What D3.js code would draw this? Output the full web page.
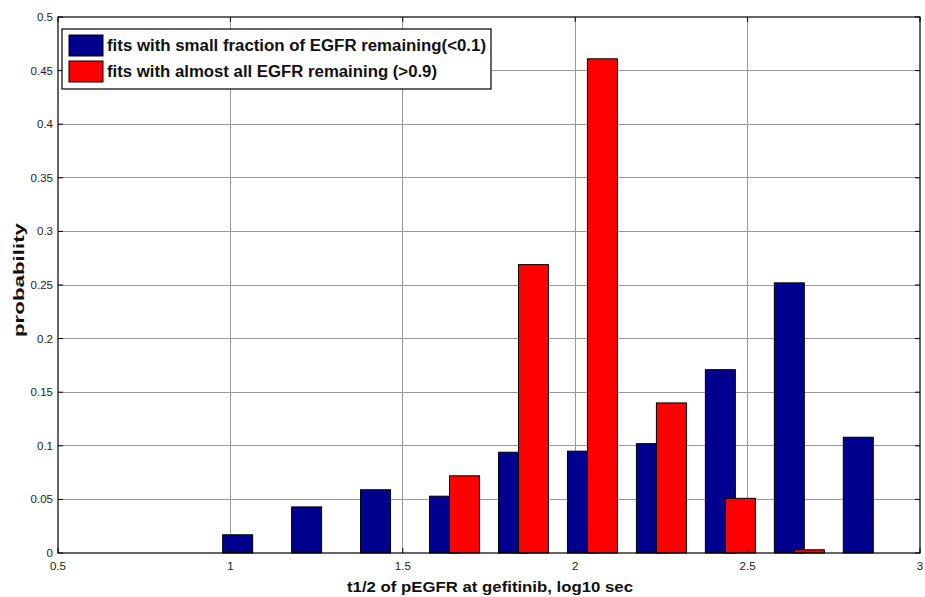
<!DOCTYPE html>
<html><head><meta charset="utf-8">
<script src="https://cdn.jsdelivr.net/npm/d3@7"></script>
<style>body{margin:0;background:#fff}svg{display:block}</style>
</head><body>
<svg id="c" width="925" height="597"></svg>
<script>
const binCenters = [1.05,1.25,1.45,1.65,1.85,2.05,2.25,2.45,2.65,2.85];
const smallFraction = [0.017,0.043,0.059,0.053,0.094,0.095,0.102,0.171,0.252,0.108];
const almostAll     = [0,0,0,0.072,0.269,0.461,0.140,0.051,0.003,0];
const seriesNames = ["fits with small fraction of EGFR remaining(<0.1)","fits with almost all EGFR remaining (>0.9)"];
const seriesColors = ["#00008F","#FF0000"];
const xTicks = [0.5,1,1.5,2,2.5,3];
const yTicks = [0,0.05,0.1,0.15,0.2,0.25,0.3,0.35,0.4,0.45,0.5];
const xLabel = "t1/2 of pEGFR at gefitinib, log10 sec";
const yLabel = "probability";

const svg = d3.select("#c");
const L=58,R=920,T=17,B=553;
const x = d3.scaleLinear().domain([0.5,3]).range([L,R]);
const y = d3.scaleLinear().domain([0,0.5]).range([B,T]);
const font="'Liberation Sans',Arial,Helvetica,sans-serif";

// grid
const g = svg.append("g");
g.selectAll(".gx").data(xTicks.slice(1,-1)).join("line")
 .attr("x1",d=>x(d)).attr("x2",d=>x(d)).attr("y1",T).attr("y2",B)
 .attr("stroke","#9a9a9a").attr("stroke-width",1).attr("shape-rendering","crispEdges");
g.selectAll(".gy").data(yTicks.slice(1,-1)).join("line")
 .attr("y1",d=>y(d)).attr("y2",d=>y(d)).attr("x1",L).attr("x2",R)
 .attr("stroke","#9a9a9a").attr("stroke-width",1).attr("shape-rendering","crispEdges");

// bars
const dx = 0.029, bw = x(0.5+0.087)-x(0.5);
const series=[smallFraction,almostAll];
series.forEach((vals,si)=>{
  svg.append("g").selectAll("rect").data(vals.map((v,i)=>({c:binCenters[i],v}))).join("rect")
   .attr("x",d=>x(d.c+(si?dx:-dx))-bw/2)
   .attr("width",bw)
   .attr("y",d=>y(d.v)).attr("height",d=>B-y(d.v))
   .attr("fill",seriesColors[si]).attr("stroke",d=>d.v>0?"#000":"#999").attr("stroke-width",1);
});

// axes box
svg.append("rect").attr("x",L).attr("y",T).attr("width",R-L).attr("height",B-T)
 .attr("fill","none").attr("stroke","#000").attr("stroke-width",1.2);

// ticks
const tl=5;
xTicks.forEach(t=>{
  svg.append("line").attr("x1",x(t)).attr("x2",x(t)).attr("y1",B).attr("y2",B-tl).attr("stroke","#000");
  svg.append("line").attr("x1",x(t)).attr("x2",x(t)).attr("y1",T).attr("y2",T+tl).attr("stroke","#000");
});
yTicks.forEach(t=>{
  svg.append("line").attr("y1",y(t)).attr("y2",y(t)).attr("x1",L).attr("x2",L+tl).attr("stroke","#000");
  svg.append("line").attr("y1",y(t)).attr("y2",y(t)).attr("x1",R).attr("x2",R-tl).attr("stroke","#000");
});
svg.append("g").selectAll("text").data(xTicks).join("text")
 .attr("x",d=>x(d)).attr("y",B+17).attr("text-anchor","middle")
 .attr("font-family",font).attr("font-size",11.5).attr("fill","#222").text(d=>d);
svg.append("g").selectAll("text").data(yTicks).join("text")
 .attr("x",L-5).attr("y",d=>y(d)+4).attr("text-anchor","end")
 .attr("font-family",font).attr("font-size",11.5).attr("fill","#222").text(d=>d);

// labels
svg.append("text").attr("x",490).attr("y",592).attr("text-anchor","middle")
 .attr("font-family",font).attr("font-weight","bold").attr("font-size",15).attr("fill","#111")
 .attr("textLength",286).attr("lengthAdjust","spacingAndGlyphs").text(xLabel);
svg.append("text").attr("transform","translate(24,280) rotate(-90)").attr("text-anchor","middle")
 .attr("font-family",font).attr("font-weight","bold").attr("font-size",15).attr("fill","#111")
 .attr("textLength",114).attr("lengthAdjust","spacingAndGlyphs").text(yLabel);

// legend
const lg = svg.append("g");
lg.append("rect").attr("x",62).attr("y",29).attr("width",429).attr("height",60)
 .attr("fill","#fff").attr("stroke","#000").attr("stroke-width",1.2);
const legendTextLen=[379,330];
seriesNames.forEach((n,i)=>{
  lg.append("rect").attr("x",69).attr("y",35+i*26).attr("width",34).attr("height",21)
   .attr("fill",seriesColors[i]).attr("stroke","#000").attr("stroke-width",1);
  lg.append("text").attr("x",107).attr("y",51+i*26)
   .attr("font-family",font).attr("font-weight","bold").attr("font-size",16).attr("fill","#111")
   .attr("textLength",legendTextLen[i]).attr("lengthAdjust","spacingAndGlyphs").text(n);
});
</script>
</body></html>
